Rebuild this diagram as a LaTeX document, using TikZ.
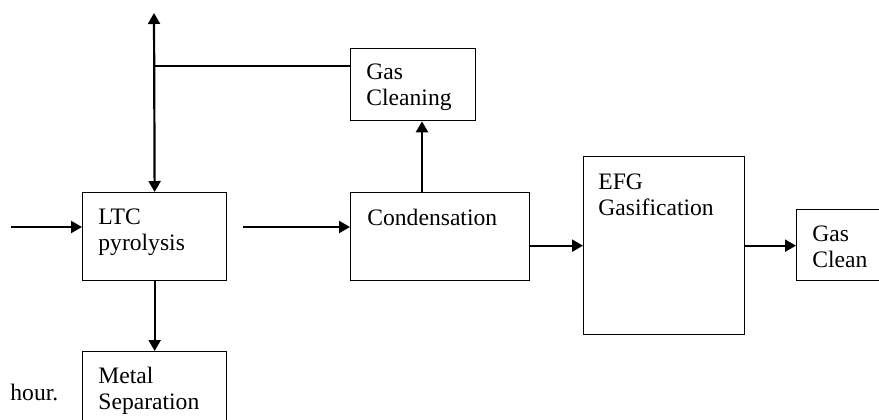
\documentclass[tikz,border=0pt]{standalone}
\usepackage{fontspec}
\setmainfont{Liberation Serif}
\usetikzlibrary{arrows.meta}
\begin{document}
\begin{tikzpicture}[x=0.5pt,y=-0.5pt,
  blk/.style={draw, line width=0.65pt, anchor=north west, inner sep=0pt, minimum width=#1},
  lbl/.style={anchor=north west, inner sep=0pt, align=left, font=\fontsize{11.8}{13}\selectfont},
  tip/.tip={Triangle[length=5.5pt,width=6pt]},
  flow/.style={line width=1.1pt, -tip},
  link/.style={line width=0.65pt}
]
\useasboundingbox (0,0) rectangle (879,419);
\clip (0,0) rectangle (879,419);
% boxes
\node[blk=72pt, minimum height=44pt] (ltc) at (82,192) {};
\node[blk=62.5pt, minimum height=36pt] (gcl) at (350,48) {};
\node[blk=89.5pt, minimum height=44pt] (cond) at (350,192) {};
\node[blk=80.5pt, minimum height=89pt] (efg) at (583,156) {};
\node[blk=50pt, minimum height=35.5pt] (gc) at (796,209) {};
\node[blk=72pt, minimum height=45pt] (met) at (82,351) {};
% labels
\node[lbl] (tltc) at ([shift={(16,16)}]ltc.north west) {LTC\\pyrolysis};
\node[lbl] (tgcl) at ([shift={(16,15)}]gcl.north west) {Gas\\Cleaning};
\node[lbl] (tcond) at ([shift={(17,17)}]cond.north west) {Condensation};
\node[lbl] (tefg) at ([shift={(15,17)}]efg.north west) {EFG\\Gasification};
\node[lbl] (tgc) at ([shift={(16,16)}]gc.north west) {Gas\\Clean};
\node[lbl] (tmet) at ([shift={(16,16)}]met.north west) {Metal\\Separation};
\node[anchor=base west, inner sep=0pt, font=\fontsize{11.8}{13}\selectfont] (hour) at (10,400) {hour.};
% coordinates
\coordinate (top) at (154,13);
\coordinate (j) at (154,66);
\coordinate (in0) at (11,227);
\coordinate (a0) at (243,227);
\coordinate (cx) at (422,0);
% connectors
\draw[line width=1.1pt, tip-tip] (top) -- (ltc.north);
\draw[link] (j) -- (j -| gcl.west);
\draw[flow] (in0) -- (in0 -| ltc.west);
\draw[flow] (a0) -- (a0 -| cond.west);
\draw[flow] (cond.north -| cx) -- (gcl.south -| cx);
\draw[flow] (ltc.south) -- (met.north);
\draw[flow] (cond.east |- efg.west) -- (efg.west);
\draw[flow] (efg.east) -- (efg.east -| gc.west);
\end{tikzpicture}
\end{document}
